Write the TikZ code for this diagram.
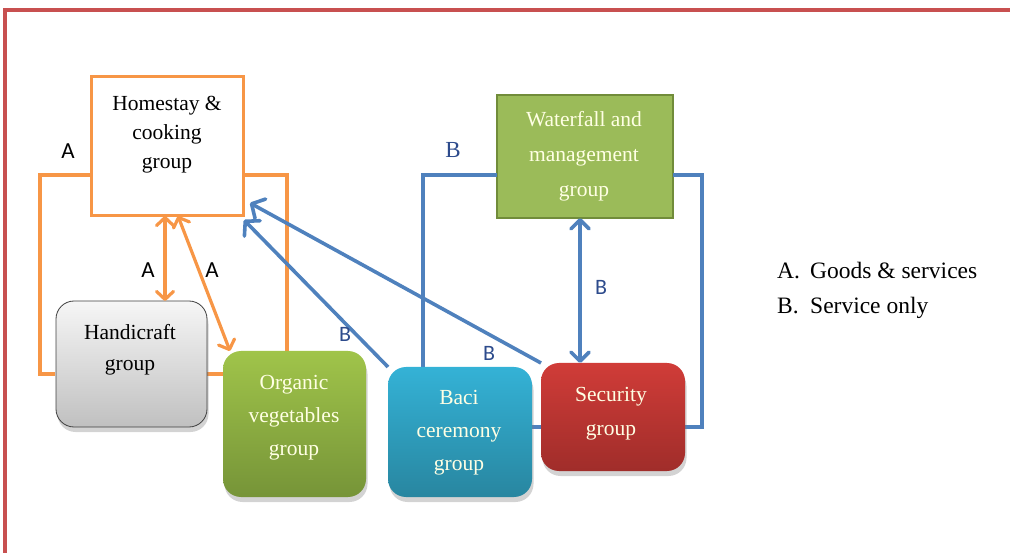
\documentclass[tikz,border=0pt]{standalone}
\usepackage{fontspec}
\setmainfont{Liberation Serif}
\newfontfamily\labelfont{Carlito}
\usetikzlibrary{arrows.meta,shadows,calc}

\definecolor{frameRed}{RGB}{200,80,80}
\definecolor{orangeLine}{RGB}{247,150,70}
\definecolor{blueLine}{RGB}{79,129,189}
\definecolor{labelBlue}{RGB}{45,75,140}
\definecolor{greenTop}{RGB}{160,196,74}
\definecolor{greenBot}{RGB}{118,148,56}
\definecolor{cyanTop}{RGB}{52,178,214}
\definecolor{cyanBot}{RGB}{40,134,160}
\definecolor{redTop}{RGB}{208,60,56}
\definecolor{redBot}{RGB}{160,45,42}
\definecolor{grayTop}{RGB}{246,246,246}
\definecolor{grayBot}{RGB}{192,192,192}
\definecolor{wfFill}{RGB}{155,187,89}
\definecolor{wfDraw}{RGB}{113,140,58}
\definecolor{paleText}{RGB}{255,255,228}

\tikzset{
  boxtext/.style={font=\fontsize{21.5}{30}\selectfont, align=center, inner sep=0pt},
  roundbox/.style={rounded corners=18pt, inner sep=0pt, outer sep=0pt,
    drop shadow={shadow xshift=1.5pt, shadow yshift=-5pt, opacity=0.35}},
  plainbox/.style={inner sep=0pt, outer sep=0pt},
  orangeconn/.style={draw=orangeLine, line width=3.2pt},
  blueconn/.style={draw=blueLine, line width=3.6pt},
  orangetip/.style={{Straight Barb[round,length=8pt,width=17pt]}-{Straight Barb[round,length=8pt,width=17pt]}},
  bluetwo/.style={{Straight Barb[round,length=9pt,width=18pt]}-{Straight Barb[round,length=9pt,width=18pt]}},
  bluetip/.style={-{Straight Barb[round,length=10pt,width=22pt]}},
  tagA/.style={font=\labelfont\fontsize{23}{23}\selectfont, text=black, inner sep=0pt},
  tagB/.style={font=\labelfont\fontsize{22}{22}\selectfont, text=labelBlue, inner sep=0pt},
  legend/.style={font=\fontsize{23.5}{26}\selectfont, anchor=west, inner sep=0pt}
}

\begin{document}
\begin{tikzpicture}[x=1pt,y=-1pt]
\useasboundingbox (0,0) rectangle (1010,553);

% outer frame
\draw[frameRed, line width=3.5pt] (5,560) -- (5,10) -- (1020,10);

% corner points of the two connection loops
\coordinate (oTL) at (40,175);
\coordinate (oBL) at (40,374);
\coordinate (oTR) at (287,175);
\coordinate (bTL) at (423,175);
\coordinate (bTR) at (702,175);
\coordinate (bBR) at (702,427);
\coordinate (ox) at (165,0);
\coordinate (od) at (178,0);
\coordinate (vx) at (580,0);

% boxes
\node[plainbox, draw=orangeLine, line width=3pt, fill=white,
      minimum width=152pt, minimum height=139pt] (home) at (167,146.5) {};
\node[plainbox, draw=wfDraw, line width=2.5pt, fill=wfFill,
      minimum width=176pt, minimum height=123pt] (wf) at (585,156.5) {};

% loops behind the rounded boxes
\draw[orangeconn] (home.west |- oTL) -- (oTL) -- (oBL) -- (55,374);
\draw[orangeconn] (home.east |- oTR) -- (oTR) -- (287,352);
\draw[orangeconn] (205,374) -- (225,374);
\draw[blueconn] (wf.west |- bTL) -- (bTL) -- (423,368);
\draw[blueconn] (wf.east |- bTR) -- (bTR) -- (bBR) -- (683,427);
\draw[blueconn] (530,427) -- (543,427);

\node[roundbox, draw=black!75, line width=0.8pt, top color=grayTop, bottom color=grayBot,
      minimum width=151pt, minimum height=126pt] (hand) at (131.5,364) {};
\node[roundbox, top color=greenTop, bottom color=greenBot,
      minimum width=143pt, minimum height=146pt] (org) at (294.5,424) {};
\node[roundbox, top color=cyanTop, bottom color=cyanBot,
      minimum width=144pt, minimum height=130pt] (baci) at (460,432) {};
\node[roundbox, top color=redTop, bottom color=redBot,
      minimum width=144pt, minimum height=108pt] (sec) at (613,417) {};

% box texts
\node[boxtext, font=\fontsize{21.5}{29}\selectfont] (homeT) at (167,135) {Homestay \&\\cooking\\group};
\node[boxtext, text=paleText, font=\fontsize{21.5}{35}\selectfont] (wfT) at (584,156) {Waterfall and\\management\\group};
\node[boxtext, font=\fontsize{21.5}{31}\selectfont] (handT) at (130,350) {Handicraft\\group};
\node[boxtext, text=paleText, font=\fontsize{21.5}{33}\selectfont] (orgT) at (294,418) {Organic\\vegetables\\group};
\node[boxtext, text=paleText, font=\fontsize{21.5}{33}\selectfont] (baciT) at (459,433) {Baci\\ceremony\\group};
\node[boxtext, text=paleText, font=\fontsize{21.5}{34}\selectfont] (secT) at (611,414) {Security\\group};

% arrows
\draw[orangeconn, orangetip] (home.south -| ox) -- (hand.north -| ox);
\draw[orangeconn, orangetip] (home.south -| od) -- ($(org.north west)+(7,0)$);
\draw[blueconn, bluetwo] (wf.south -| vx) -- (sec.north -| vx);
\draw[blueconn, bluetip] (baci.north west) -- ($(home.south east)+(1,4)$);
\draw[blueconn, bluetip] (sec.north west) -- ($(home.south east)+(7,-13)$);

% labels
\node[tagA] (la1) at (68,151) {A};
\node[tagA] (la2) at (148,270) {A};
\node[tagA] (la3) at (212,270) {A};
\node[tagB, font=\fontsize{23}{23}\selectfont] (lb1) at (453,150) {B};
\node[tagB] (lb2) at (601,287) {B};
\node[tagB] (lb3) at (345,334) {B};
\node[tagB] (lb4) at (489,353) {B};

% legend
\node[legend] (legA) at (777,271) {\makebox[33pt][l]{A.}Goods \& services};
\node[legend] (legB) at (777,308) {\makebox[33pt][l]{B.}Service only};
\end{tikzpicture}
\end{document}
